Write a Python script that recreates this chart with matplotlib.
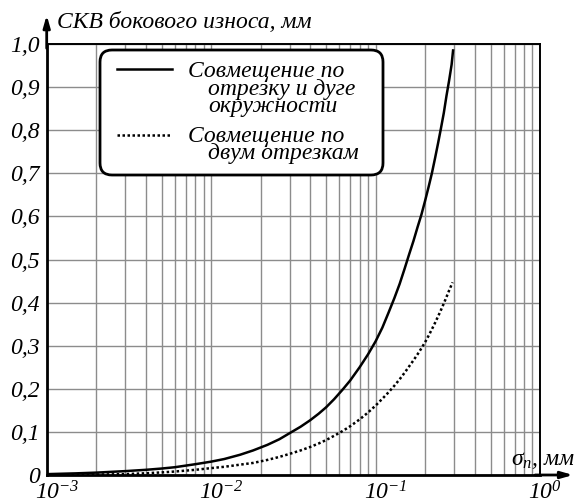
import matplotlib
matplotlib.use('Agg')
import matplotlib.pyplot as plt
from matplotlib.patches import FancyBboxPatch
from matplotlib.lines import Line2D
from matplotlib.ticker import LogLocator, NullFormatter
import matplotlib.transforms as mtransforms

plt.rcParams['font.family'] = ['Liberation Serif', 'DejaVu Serif']
plt.rcParams['font.style'] = 'italic'
plt.rcParams['mathtext.fontset'] = 'custom'
plt.rcParams['mathtext.rm'] = 'Liberation Serif'
plt.rcParams['mathtext.it'] = 'Liberation Serif:italic'

# curve readings (sigma_n, mm -> side wear RMS, mm)
solid_x = [0.001, 0.0015, 0.002, 0.003, 0.004, 0.005, 0.006, 0.008, 0.01, 0.012,
           0.015, 0.018, 0.022, 0.026, 0.03, 0.035, 0.04, 0.045, 0.05, 0.056,
           0.063, 0.07, 0.08, 0.09, 0.1, 0.11, 0.12, 0.13, 0.14, 0.15,
           0.16, 0.17, 0.18, 0.19, 0.2, 0.21, 0.22, 0.23, 0.24, 0.25,
           0.26, 0.27, 0.28, 0.29, 0.296]
solid_y = [0.002, 0.0038, 0.0055, 0.009, 0.012, 0.015, 0.018, 0.025, 0.031, 0.037,
           0.047, 0.057, 0.07, 0.083, 0.097, 0.112, 0.127, 0.142, 0.157, 0.176,
           0.198, 0.219, 0.25, 0.28, 0.31, 0.342, 0.377, 0.41, 0.443, 0.478,
           0.512, 0.543, 0.575, 0.604, 0.636, 0.668, 0.70, 0.735, 0.77, 0.805,
           0.84, 0.88, 0.915, 0.952, 0.985]

dotted_x = [0.001, 0.002, 0.003, 0.004, 0.005, 0.006, 0.008, 0.01, 0.012, 0.015,
            0.018, 0.022, 0.026, 0.03, 0.035, 0.04, 0.045, 0.05, 0.056, 0.063,
            0.07, 0.08, 0.09, 0.1, 0.11, 0.12, 0.13, 0.14, 0.15, 0.16,
            0.17, 0.18, 0.19, 0.2, 0.21, 0.22, 0.23, 0.24, 0.25, 0.26,
            0.27, 0.28, 0.294]
dotted_y = [0.0, 0.001, 0.002, 0.004, 0.006, 0.008, 0.012, 0.016, 0.019, 0.024,
            0.028, 0.035, 0.042, 0.049, 0.057, 0.065, 0.073, 0.081, 0.091, 0.102,
            0.113, 0.129, 0.145, 0.161, 0.177, 0.192, 0.207, 0.222, 0.237, 0.252,
            0.266, 0.28, 0.294, 0.308, 0.323, 0.338, 0.353, 0.368, 0.383, 0.398,
            0.413, 0.428, 0.447]

y_ticks = [0, 0.1, 0.2, 0.3, 0.4, 0.5, 0.6, 0.7, 0.8, 0.9, 1.0]
y_labels = ['0', '0,1', '0,2', '0,3', '0,4', '0,5', '0,6', '0,7', '0,8', '0,9', '1,0']
x_ticks = [1e-3, 1e-2, 1e-1, 1e0]
x_exps = ['-3', '-2', '-1', '0']

label_solid = ['Совмещение по', 'отрезку и дуге', 'окружности']
label_dotted = ['Совмещение по', 'двум отрезкам']

FS = 17
W, H = 575, 503

fig = plt.figure(figsize=(W / 100, H / 100), dpi=100)
ax = fig.add_axes([46.7 / W, 1 - 475 / H, (540 - 46.7) / W, (475 - 44) / H])

ax.plot(solid_x, solid_y, color='black', lw=1.8, zorder=4)
ax.plot(dotted_x, dotted_y, color='black', lw=1.8, linestyle=(0, (1, 1)), zorder=4)

ax.set_xscale('log')
ax.set_xlim(1e-3, 1)
ax.set_ylim(0, 1.0)
ax.xaxis.set_minor_locator(LogLocator(base=10, subs=range(2, 10)))
ax.xaxis.set_minor_formatter(NullFormatter())
ax.set_xticks(x_ticks)
ax.set_xticklabels([])
ax.set_yticks(y_ticks)
ax.set_yticklabels(y_labels, fontsize=FS, fontstyle='italic')
ax.tick_params(which='both', length=0)
ax.tick_params(axis='y', pad=5)

ax.grid(True, which='both', axis='x', color='#8c8c8c', lw=1.0)
ax.grid(True, which='major', axis='y', color='#8c8c8c', lw=1.0)

for s in ['left', 'bottom']:
    ax.spines[s].set_linewidth(2.0)
for s in ['top', 'right']:
    ax.spines[s].set_linewidth(1.4)
for s in ax.spines.values():
    s.set_zorder(5)

# x tick labels: "10" centred on tick, exponent to the right
trans = mtransforms.blended_transform_factory(ax.transData, ax.transAxes)
for xt, ex in zip(x_ticks, x_exps):
    off = mtransforms.ScaledTranslation(-0.118, -0.24, fig.dpi_scale_trans)
    ax.text(xt, 0, r'$\mathit{10}^{\mathit{' + ex + '}}$', transform=trans + off,
            ha='left', va='baseline', fontsize=FS, clip_on=False)

# axis arrows
ax.annotate('', xy=(1.067, 0), xytext=(0.99, 0), xycoords='axes fraction',
            arrowprops=dict(arrowstyle='-|>,head_length=0.7,head_width=0.2',
                            color='black', lw=2, shrinkA=0, shrinkB=0),
            annotation_clip=False)
ax.annotate('', xy=(0, 1.067), xytext=(0, 0.99), xycoords='axes fraction',
            arrowprops=dict(arrowstyle='-|>,head_length=0.7,head_width=0.2',
                            color='black', lw=2, shrinkA=0, shrinkB=0),
            annotation_clip=False)

inch = fig.dpi_scale_trans


def pt(x, y):
    return x / 100, (H - y) / 100


fig.text(*pt(57, 28), 'СКВ бокового износа, мм', transform=inch,
         fontsize=FS, ha='left', va='baseline')
fig.text(*pt(511, 465), r'$\mathrm{σ}_{\mathit{n}}$, мм', transform=inch,
         fontsize=FS, ha='left', va='baseline')

# legend box
bx0, by0 = pt(100, 175)
box = FancyBboxPatch((bx0, by0), 2.83, 1.25,
                     boxstyle='round,pad=0,rounding_size=0.12',
                     transform=inch, lw=2, ec='black', fc='white', zorder=6)
fig.add_artist(box)
x0, y0 = pt(117, 69.3)
x1, _ = pt(172, 69.3)
fig.add_artist(Line2D([x0, x1], [y0, y0], transform=inch, color='black', lw=1.8, zorder=7))
_, y0 = pt(117, 135)
fig.add_artist(Line2D([x0, x1], [y0, y0], transform=inch, color='black', lw=1.8,
                      linestyle=(0, (1, 1)), zorder=7))

for txt, (x, y) in zip(label_solid + label_dotted,
                       [(188, 77.5), (208, 95), (208, 112), (188, 142), (208, 159)]):
    fig.text(*pt(x, y), txt, transform=inch, fontsize=FS, ha='left',
             va='baseline', zorder=8)

fig.savefig('out.png', dpi=100)
